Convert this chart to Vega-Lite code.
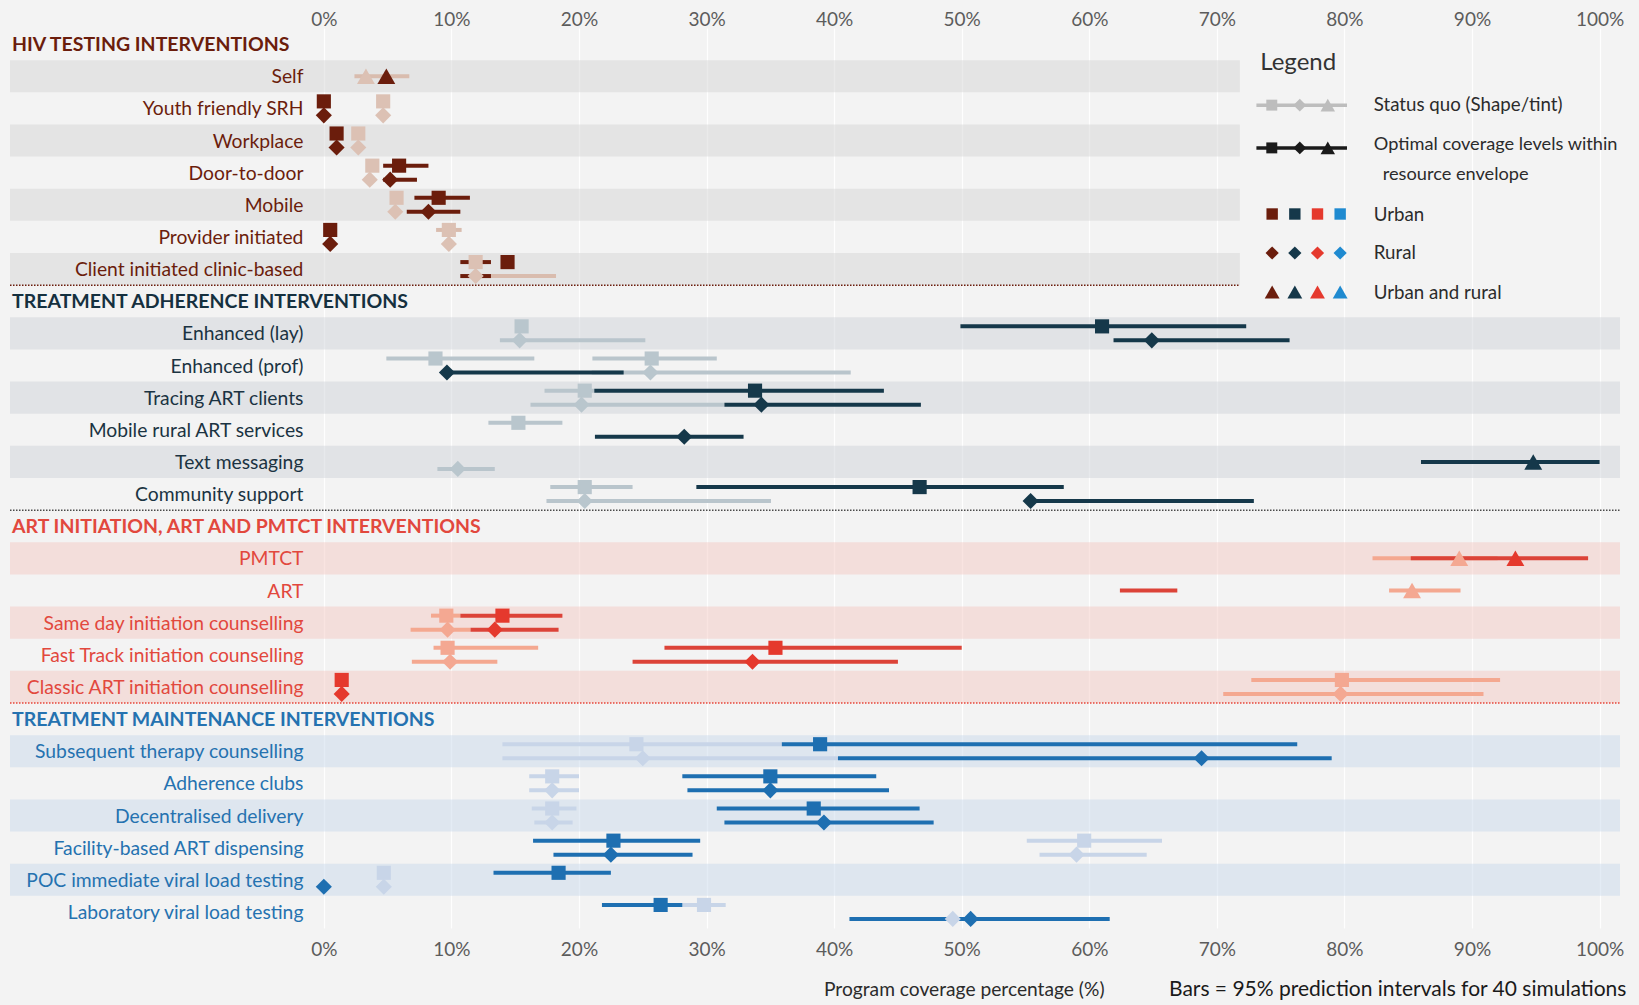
{
  "$schema": "https://vega.github.io/schema/vega-lite/v6.json",
  "width": 1610,
  "height": 900,
  "autosize": {"type": "none"},
  "padding": {"left": 10, "top": 28, "right": 19, "bottom": 77},
  "background": "#f3f3f3",
  "config": {
    "view": {"stroke": null},
    "font": "Lato"
  },
  "datasets": {
    "rows": [
      {"row": "HIV TESTING INTERVENTIONS", "sec": "HIV", "kind": "header"},
      {"row": "Self", "sec": "HIV", "kind": "label"},
      {"row": "Youth friendly SRH", "sec": "HIV", "kind": "label"},
      {"row": "Workplace", "sec": "HIV", "kind": "label"},
      {"row": "Door-to-door", "sec": "HIV", "kind": "label"},
      {"row": "Mobile", "sec": "HIV", "kind": "label"},
      {"row": "Provider initiated", "sec": "HIV", "kind": "label"},
      {"row": "Client initiated clinic-based", "sec": "HIV", "kind": "label"},
      {"row": "TREATMENT ADHERENCE INTERVENTIONS", "sec": "ADH", "kind": "header"},
      {"row": "Enhanced (lay)", "sec": "ADH", "kind": "label"},
      {"row": "Enhanced (prof)", "sec": "ADH", "kind": "label"},
      {"row": "Tracing ART clients", "sec": "ADH", "kind": "label"},
      {"row": "Mobile rural ART services", "sec": "ADH", "kind": "label"},
      {"row": "Text messaging", "sec": "ADH", "kind": "label"},
      {"row": "Community support", "sec": "ADH", "kind": "label"},
      {"row": "ART INITIATION, ART AND PMTCT INTERVENTIONS", "sec": "ART", "kind": "header"},
      {"row": "PMTCT", "sec": "ART", "kind": "label"},
      {"row": "ART", "sec": "ART", "kind": "label"},
      {"row": "Same day initiation counselling", "sec": "ART", "kind": "label"},
      {"row": "Fast Track initiation counselling", "sec": "ART", "kind": "label"},
      {"row": "Classic ART initiation counselling", "sec": "ART", "kind": "label"},
      {"row": "TREATMENT MAINTENANCE INTERVENTIONS", "sec": "MNT", "kind": "header"},
      {"row": "Subsequent therapy counselling", "sec": "MNT", "kind": "label"},
      {"row": "Adherence clubs", "sec": "MNT", "kind": "label"},
      {"row": "Decentralised delivery", "sec": "MNT", "kind": "label"},
      {"row": "Facility-based ART dispensing", "sec": "MNT", "kind": "label"},
      {"row": "POC immediate viral load testing", "sec": "MNT", "kind": "label"},
      {"row": "Laboratory viral load testing", "sec": "MNT", "kind": "label"}
    ],
    "bands": [
      {"row": "Self", "sec": "HIV"},
      {"row": "Workplace", "sec": "HIV"},
      {"row": "Mobile", "sec": "HIV"},
      {"row": "Client initiated clinic-based", "sec": "HIV"},
      {"row": "Enhanced (lay)", "sec": "ADH"},
      {"row": "Tracing ART clients", "sec": "ADH"},
      {"row": "Text messaging", "sec": "ADH"},
      {"row": "PMTCT", "sec": "ART"},
      {"row": "Same day initiation counselling", "sec": "ART"},
      {"row": "Classic ART initiation counselling", "sec": "ART"},
      {"row": "Subsequent therapy counselling", "sec": "MNT"},
      {"row": "Decentralised delivery", "sec": "MNT"},
      {"row": "POC immediate viral load testing", "sec": "MNT"}
    ],
    "seps": [
      {"row": "TREATMENT ADHERENCE INTERVENTIONS", "sec": "HIV"},
      {"row": "ART INITIATION, ART AND PMTCT INTERVENTIONS", "sec": "ADH"},
      {"row": "TREATMENT MAINTENANCE INTERVENTIONS", "sec": "ART"}
    ],
    "pts": [
      {"sec": "HIV", "row": "Self", "area": "Urban and rural", "scen": "SQ", "v": 3.3, "lo": 2.4, "hi": 6.7},
      {"sec": "HIV", "row": "Self", "area": "Urban and rural", "scen": "OPT", "v": 4.9},
      {"sec": "HIV", "row": "Youth friendly SRH", "area": "Urban", "scen": "OPT", "v": 0.0},
      {"sec": "HIV", "row": "Youth friendly SRH", "area": "Rural", "scen": "OPT", "v": 0.0},
      {"sec": "HIV", "row": "Youth friendly SRH", "area": "Urban", "scen": "SQ", "v": 4.65},
      {"sec": "HIV", "row": "Youth friendly SRH", "area": "Rural", "scen": "SQ", "v": 4.65},
      {"sec": "HIV", "row": "Workplace", "area": "Urban", "scen": "OPT", "v": 1.0},
      {"sec": "HIV", "row": "Workplace", "area": "Rural", "scen": "OPT", "v": 1.0},
      {"sec": "HIV", "row": "Workplace", "area": "Urban", "scen": "SQ", "v": 2.7},
      {"sec": "HIV", "row": "Workplace", "area": "Rural", "scen": "SQ", "v": 2.7},
      {"sec": "HIV", "row": "Door-to-door", "area": "Urban", "scen": "SQ", "v": 3.8},
      {"sec": "HIV", "row": "Door-to-door", "area": "Rural", "scen": "SQ", "v": 3.6},
      {"sec": "HIV", "row": "Door-to-door", "area": "Urban", "scen": "OPT", "v": 5.9, "lo": 4.65, "hi": 8.2},
      {"sec": "HIV", "row": "Door-to-door", "area": "Rural", "scen": "OPT", "v": 5.2, "lo": 4.65, "hi": 7.3},
      {"sec": "HIV", "row": "Mobile", "area": "Urban", "scen": "SQ", "v": 5.7},
      {"sec": "HIV", "row": "Mobile", "area": "Rural", "scen": "SQ", "v": 5.6},
      {"sec": "HIV", "row": "Mobile", "area": "Urban", "scen": "OPT", "v": 9.0, "lo": 7.1, "hi": 11.45},
      {"sec": "HIV", "row": "Mobile", "area": "Rural", "scen": "OPT", "v": 8.2, "lo": 6.5, "hi": 10.7},
      {"sec": "HIV", "row": "Provider initiated", "area": "Urban", "scen": "OPT", "v": 0.5},
      {"sec": "HIV", "row": "Provider initiated", "area": "Rural", "scen": "OPT", "v": 0.5},
      {"sec": "HIV", "row": "Provider initiated", "area": "Urban", "scen": "SQ", "v": 9.8, "lo": 8.8, "hi": 10.8},
      {"sec": "HIV", "row": "Provider initiated", "area": "Rural", "scen": "SQ", "v": 9.8},
      {"sec": "HIV", "row": "Client initiated clinic-based", "area": "Urban", "scen": "SQ", "v": 11.9},
      {"sec": "HIV", "row": "Client initiated clinic-based", "area": "Urban", "scen": "OPT", "v": 14.4, "lo": 10.7, "hi": 13.1},
      {"sec": "HIV", "row": "Client initiated clinic-based", "area": "Rural", "scen": "SQ", "v": 11.9, "lo": 10.7, "hi": 18.2},
      {"sec": "HIV", "row": "Client initiated clinic-based", "area": "Rural", "scen": "OPT", "v": null, "lo": 10.7, "hi": 13.1},

      {"sec": "ADH", "row": "Enhanced (lay)", "area": "Urban", "scen": "SQ", "v": 15.5},
      {"sec": "ADH", "row": "Enhanced (lay)", "area": "Rural", "scen": "SQ", "v": 15.35, "lo": 13.8, "hi": 25.2},
      {"sec": "ADH", "row": "Enhanced (lay)", "area": "Urban", "scen": "OPT", "v": 61.0, "lo": 49.9, "hi": 72.3},
      {"sec": "ADH", "row": "Enhanced (lay)", "area": "Rural", "scen": "OPT", "v": 64.9, "lo": 61.9, "hi": 75.7},
      {"sec": "ADH", "row": "Enhanced (prof)", "area": "Urban", "scen": "SQ", "v": 8.75, "lo": 4.9, "hi": 16.5},
      {"sec": "ADH", "row": "Enhanced (prof)", "area": "Urban", "scen": "SQ", "v": 25.7, "lo": 21.05, "hi": 30.8},
      {"sec": "ADH", "row": "Enhanced (prof)", "area": "Rural", "scen": "SQ", "v": 25.6, "lo": 21.0, "hi": 41.3},
      {"sec": "ADH", "row": "Enhanced (prof)", "area": "Rural", "scen": "OPT", "v": 9.65, "lo": 9.65, "hi": 23.5},
      {"sec": "ADH", "row": "Tracing ART clients", "area": "Urban", "scen": "SQ", "v": 20.45, "lo": 17.3, "hi": 21.2},
      {"sec": "ADH", "row": "Tracing ART clients", "area": "Rural", "scen": "SQ", "v": 20.2, "lo": 16.2, "hi": 31.4},
      {"sec": "ADH", "row": "Tracing ART clients", "area": "Urban", "scen": "OPT", "v": 33.8, "lo": 21.2, "hi": 43.9},
      {"sec": "ADH", "row": "Tracing ART clients", "area": "Rural", "scen": "OPT", "v": 34.3, "lo": 31.4, "hi": 46.8},
      {"sec": "ADH", "row": "Mobile rural ART services", "area": "Urban", "scen": "SQ", "v": 15.25, "lo": 12.9, "hi": 18.7},
      {"sec": "ADH", "row": "Mobile rural ART services", "area": "Rural", "scen": "OPT", "v": 28.25, "lo": 21.25, "hi": 32.9},
      {"sec": "ADH", "row": "Text messaging", "area": "Rural", "scen": "SQ", "v": 10.5, "lo": 8.9, "hi": 13.4},
      {"sec": "ADH", "row": "Text messaging", "area": "Urban and rural", "scen": "OPT", "v": 94.8, "lo": 86.0, "hi": 100.0},
      {"sec": "ADH", "row": "Community support", "area": "Urban", "scen": "SQ", "v": 20.45, "lo": 17.75, "hi": 24.2},
      {"sec": "ADH", "row": "Community support", "area": "Rural", "scen": "SQ", "v": 20.45, "lo": 17.45, "hi": 35.05},
      {"sec": "ADH", "row": "Community support", "area": "Urban", "scen": "OPT", "v": 46.7, "lo": 29.2, "hi": 58.0},
      {"sec": "ADH", "row": "Community support", "area": "Rural", "scen": "OPT", "v": 55.4, "lo": 55.4, "hi": 72.9},

      {"sec": "ART", "row": "PMTCT", "area": "Urban and rural", "scen": "SQ", "v": 89.0, "lo": 82.2, "hi": 92.0},
      {"sec": "ART", "row": "PMTCT", "area": "Urban and rural", "scen": "OPT", "v": 93.4, "lo": 85.2, "hi": 99.1},
      {"sec": "ART", "row": "ART", "area": "Urban and rural", "scen": "OPT", "v": null, "lo": 62.4, "hi": 66.9},
      {"sec": "ART", "row": "ART", "area": "Urban and rural", "scen": "SQ", "v": 85.3, "lo": 83.5, "hi": 89.1},
      {"sec": "ART", "row": "Same day initiation counselling", "area": "Urban", "scen": "SQ", "v": 9.6, "lo": 8.4, "hi": 10.7},
      {"sec": "ART", "row": "Same day initiation counselling", "area": "Urban", "scen": "OPT", "v": 14.0, "lo": 10.7, "hi": 18.7},
      {"sec": "ART", "row": "Same day initiation counselling", "area": "Rural", "scen": "SQ", "v": 9.7, "lo": 6.8, "hi": 11.5},
      {"sec": "ART", "row": "Same day initiation counselling", "area": "Rural", "scen": "OPT", "v": 13.4, "lo": 11.5, "hi": 18.4},
      {"sec": "ART", "row": "Fast Track initiation counselling", "area": "Urban", "scen": "SQ", "v": 9.7, "lo": 8.6, "hi": 16.8},
      {"sec": "ART", "row": "Fast Track initiation counselling", "area": "Urban", "scen": "OPT", "v": 35.4, "lo": 26.7, "hi": 50.0},
      {"sec": "ART", "row": "Fast Track initiation counselling", "area": "Rural", "scen": "SQ", "v": 9.9, "lo": 6.9, "hi": 13.6},
      {"sec": "ART", "row": "Fast Track initiation counselling", "area": "Rural", "scen": "OPT", "v": 33.6, "lo": 24.2, "hi": 45.0},
      {"sec": "ART", "row": "Classic ART initiation counselling", "area": "Urban", "scen": "OPT", "v": 1.4},
      {"sec": "ART", "row": "Classic ART initiation counselling", "area": "Rural", "scen": "OPT", "v": 1.4},
      {"sec": "ART", "row": "Classic ART initiation counselling", "area": "Urban", "scen": "SQ", "v": 79.8, "lo": 72.7, "hi": 92.2},
      {"sec": "ART", "row": "Classic ART initiation counselling", "area": "Rural", "scen": "SQ", "v": 79.7, "lo": 70.5, "hi": 90.9},

      {"sec": "MNT", "row": "Subsequent therapy counselling", "area": "Urban", "scen": "SQ", "v": 24.5, "lo": 14.0, "hi": 35.9},
      {"sec": "MNT", "row": "Subsequent therapy counselling", "area": "Urban", "scen": "OPT", "v": 38.9, "lo": 35.9, "hi": 76.3},
      {"sec": "MNT", "row": "Subsequent therapy counselling", "area": "Rural", "scen": "SQ", "v": 25.0, "lo": 14.0, "hi": 40.3},
      {"sec": "MNT", "row": "Subsequent therapy counselling", "area": "Rural", "scen": "OPT", "v": 68.8, "lo": 40.3, "hi": 79.0},
      {"sec": "MNT", "row": "Adherence clubs", "area": "Urban", "scen": "SQ", "v": 17.9, "lo": 16.1, "hi": 20.0},
      {"sec": "MNT", "row": "Adherence clubs", "area": "Rural", "scen": "SQ", "v": 17.9, "lo": 16.1, "hi": 20.0},
      {"sec": "MNT", "row": "Adherence clubs", "area": "Urban", "scen": "OPT", "v": 35.0, "lo": 28.1, "hi": 43.3},
      {"sec": "MNT", "row": "Adherence clubs", "area": "Rural", "scen": "OPT", "v": 35.0, "lo": 28.5, "hi": 44.3},
      {"sec": "MNT", "row": "Decentralised delivery", "area": "Urban", "scen": "SQ", "v": 17.9, "lo": 16.3, "hi": 19.8},
      {"sec": "MNT", "row": "Decentralised delivery", "area": "Rural", "scen": "SQ", "v": 17.9, "lo": 16.5, "hi": 19.5},
      {"sec": "MNT", "row": "Decentralised delivery", "area": "Urban", "scen": "OPT", "v": 38.4, "lo": 30.8, "hi": 46.7},
      {"sec": "MNT", "row": "Decentralised delivery", "area": "Rural", "scen": "OPT", "v": 39.2, "lo": 31.4, "hi": 47.8},
      {"sec": "MNT", "row": "Facility-based ART dispensing", "area": "Urban", "scen": "OPT", "v": 22.7, "lo": 16.4, "hi": 29.5},
      {"sec": "MNT", "row": "Facility-based ART dispensing", "area": "Rural", "scen": "OPT", "v": 22.5, "lo": 18.0, "hi": 28.9},
      {"sec": "MNT", "row": "Facility-based ART dispensing", "area": "Urban", "scen": "SQ", "v": 59.6, "lo": 55.1, "hi": 65.7},
      {"sec": "MNT", "row": "Facility-based ART dispensing", "area": "Rural", "scen": "SQ", "v": 59.0, "lo": 56.1, "hi": 64.5},
      {"sec": "MNT", "row": "POC immediate viral load testing", "area": "Urban", "scen": "OPT", "v": 18.4, "lo": 13.3, "hi": 22.5},
      {"sec": "MNT", "row": "POC immediate viral load testing", "area": "Rural", "scen": "OPT", "v": 0.0},
      {"sec": "MNT", "row": "POC immediate viral load testing", "area": "Urban", "scen": "SQ", "v": 4.7},
      {"sec": "MNT", "row": "POC immediate viral load testing", "area": "Rural", "scen": "SQ", "v": 4.7},
      {"sec": "MNT", "row": "Laboratory viral load testing", "area": "Urban", "scen": "OPT", "v": 26.4, "lo": 21.8, "hi": 28.1},
      {"sec": "MNT", "row": "Laboratory viral load testing", "area": "Urban", "scen": "SQ", "v": 29.8, "lo": 28.1, "hi": 31.5},
      {"sec": "MNT", "row": "Laboratory viral load testing", "area": "Rural", "scen": "OPT", "v": 50.7, "lo": 41.2, "hi": 61.6},
      {"sec": "MNT", "row": "Laboratory viral load testing", "area": "Rural", "scen": "SQ", "v": 49.3}
    ],
    "legendSymbols": [
      {"sec": "HIV", "key": "Urban"}, {"sec": "ADH", "key": "Urban"}, {"sec": "ART", "key": "Urban"}, {"sec": "MNT", "key": "Urban"},
      {"sec": "HIV", "key": "Rural"}, {"sec": "ADH", "key": "Rural"}, {"sec": "ART", "key": "Rural"}, {"sec": "MNT", "key": "Rural"},
      {"sec": "HIV", "key": "Urban and rural"}, {"sec": "ADH", "key": "Urban and rural"}, {"sec": "ART", "key": "Urban and rural"}, {"sec": "MNT", "key": "Urban and rural"}
    ],
    "legendShapes": [
      {"key": "Urban"}, {"key": "Rural"}, {"key": "Urban and rural"}
    ]
  },
  "resolve": {"scale": {"x": "independent", "y": "independent", "color": "independent", "shape": "independent", "size": "independent", "yOffset": "independent", "xOffset": "independent"}},
  "layer": [
    {
      "encoding": {
        "y": {"field": "row", "type": "nominal", "axis": null, "scale": {"paddingInner": 0, "paddingOuter": 0, "domain": ["HIV TESTING INTERVENTIONS", "Self", "Youth friendly SRH", "Workplace", "Door-to-door", "Mobile", "Provider initiated", "Client initiated clinic-based", "TREATMENT ADHERENCE INTERVENTIONS", "Enhanced (lay)", "Enhanced (prof)", "Tracing ART clients", "Mobile rural ART services", "Text messaging", "Community support", "ART INITIATION, ART AND PMTCT INTERVENTIONS", "PMTCT", "ART", "Same day initiation counselling", "Fast Track initiation counselling", "Classic ART initiation counselling", "TREATMENT MAINTENANCE INTERVENTIONS", "Subsequent therapy counselling", "Adherence clubs", "Decentralised delivery", "Facility-based ART dispensing", "POC immediate viral load testing", "Laboratory viral load testing"]}}
      },
      "resolve": {"scale": {"color": "independent"}, "axis": {"x": "independent"}},
      "layer": [
        {
          "data": {"name": "bands"},
          "transform": [{"filter": "datum.sec === 'HIV'"}],
          "mark": {"type": "rect", "opacity": 0.42},
          "encoding": {
            "x": {"datum": -24.6, "type": "quantitative", "axis": null, "scale": {"domain": [-24.6, 101.6], "nice": false, "zero": false}},
            "x2": {"datum": 71.8},
            "color": {"field": "sec", "type": "nominal", "legend": null, "scale": {"domain": ["HIV", "ADH", "ART", "MNT"], "range": ["#cfcfcf", "#c8ced3", "#f2c2ba", "#c2d5e9"]}}
          }
        },
        {
          "data": {"name": "bands"},
          "transform": [{"filter": "datum.sec !== 'HIV'"}],
          "mark": {"type": "rect", "opacity": 0.42},
          "encoding": {
            "x": {"datum": -24.6, "type": "quantitative", "axis": null, "scale": {"domain": [-24.6, 101.6], "nice": false, "zero": false}},
            "x2": {"datum": 101.6},
            "color": {"field": "sec", "type": "nominal", "legend": null, "scale": {"domain": ["HIV", "ADH", "ART", "MNT"], "range": ["#cfcfcf", "#c8ced3", "#f2c2ba", "#c2d5e9"]}}
          }
        },
        {
          "data": {"name": "seps"},
          "transform": [{"filter": "datum.sec === 'HIV'"}],
          "mark": {"type": "rule", "strokeDash": [1.5, 1.5], "strokeWidth": 1.5, "color": "#6b1d0c"},
          "encoding": {
            "y": {"field": "row", "type": "nominal", "bandPosition": 0, "axis": null},
            "x": {"datum": -24.6, "type": "quantitative", "axis": null, "scale": {"domain": [-24.6, 101.6], "nice": false, "zero": false}},
            "x2": {"datum": 71.8}
          }
        },
        {
          "data": {"name": "seps"},
          "transform": [{"filter": "datum.sec !== 'HIV'"}],
          "mark": {"type": "rule", "strokeDash": [1.5, 1.5], "strokeWidth": 1.5},
          "encoding": {
            "y": {"field": "row", "type": "nominal", "bandPosition": 0, "axis": null},
            "x": {"datum": -24.6, "type": "quantitative", "axis": null, "scale": {"domain": [-24.6, 101.6], "nice": false, "zero": false}},
            "x2": {"datum": 101.6},
            "color": {"field": "sec", "type": "nominal", "legend": null, "scale": {"domain": ["ADH", "ART"], "range": ["#4a4a4a", "#e8463a"]}}
          }
        },
        {
          "data": {"name": "rows"},
          "transform": [{"filter": "datum.kind === 'label'"}],
          "mark": {"type": "text", "align": "right", "baseline": "middle", "fontSize": 19.3, "dy": 1},
          "encoding": {
            "x": {"datum": -1.6, "type": "quantitative", "axis": null, "scale": {"domain": [-24.6, 101.6], "nice": false, "zero": false}},
            "text": {"field": "row"},
            "color": {"field": "sec", "type": "nominal", "legend": null, "scale": {"domain": ["HIV", "ADH", "ART", "MNT"], "range": ["#6b1d0c", "#1b3342", "#e2483d", "#2572b0"]}}
          }
        },
        {
          "data": {"name": "rows"},
          "transform": [{"filter": "datum.kind === 'header'"}],
          "mark": {"type": "text", "align": "left", "baseline": "middle", "fontSize": 19.5, "fontWeight": "bold", "dy": 1},
          "encoding": {
            "x": {"datum": -24.44, "type": "quantitative", "axis": null, "scale": {"domain": [-24.6, 101.6], "nice": false, "zero": false}},
            "text": {"field": "row"},
            "color": {"field": "sec", "type": "nominal", "legend": null, "scale": {"domain": ["HIV", "ADH", "ART", "MNT"], "range": ["#6b1d0c", "#15303f", "#e2483d", "#2572b0"]}}
          }
        },
        {
          "data": {"name": "pts"},
          "transform": [{"filter": "datum.scen === 'SQ' && isValid(datum.lo)"}],
          "mark": {"type": "rule", "strokeWidth": 4},
          "encoding": {
            "yOffset": {"field": "area", "type": "nominal", "scale": {"domain": ["Urban", "Urban and rural", "Rural"], "paddingInner": 0, "paddingOuter": 0.8}},
            "x": {"field": "lo", "type": "quantitative", "scale": {"domain": [-24.6, 101.6], "nice": false, "zero": false},
              "axis": {"orient": "top", "values": [0, 10, 20, 30, 40, 50, 60, 70, 80, 90, 100], "labelExpr": "datum.value + '%'", "title": null, "domain": false, "ticks": false, "labelPadding": -1.5, "labelFontSize": 19, "labelColor": "#5c5c5c", "grid": true, "gridColor": "#ffffff", "gridOpacity": 0.9, "gridWidth": 1.2}},
            "x2": {"field": "hi"},
            "color": {"field": "sec", "type": "nominal", "legend": null, "scale": {"domain": ["HIV", "ADH", "ART", "MNT"], "range": ["#d9bcae", "#b9c5cc", "#f4a890", "#c8d5e8"]}}
          }
        },
        {
          "data": {"name": "pts"},
          "transform": [{"filter": "datum.scen === 'OPT' && isValid(datum.lo)"}],
          "mark": {"type": "rule", "strokeWidth": 4},
          "encoding": {
            "yOffset": {"field": "area", "type": "nominal", "scale": {"domain": ["Urban", "Urban and rural", "Rural"], "paddingInner": 0, "paddingOuter": 0.8}},
            "x": {"field": "lo", "type": "quantitative", "axis": null, "scale": {"domain": [-24.6, 101.6], "nice": false, "zero": false}},
            "x2": {"field": "hi"},
            "color": {"field": "sec", "type": "nominal", "legend": null, "scale": {"domain": ["HIV", "ADH", "ART", "MNT"], "range": ["#6b1d0c", "#15384a", "#dc4338", "#1e6fb1"]}}
          }
        },
        {
          "data": {"name": "pts"},
          "transform": [{"filter": "datum.scen === 'SQ' && isValid(datum.v)"}],
          "mark": {"type": "point", "filled": true, "opacity": 1, "strokeWidth": 0},
          "encoding": {
            "yOffset": {"field": "area", "type": "nominal", "scale": {"domain": ["Urban", "Urban and rural", "Rural"], "paddingInner": 0, "paddingOuter": 0.8}},
            "x": {"field": "v", "type": "quantitative", "scale": {"domain": [-24.6, 101.6], "nice": false, "zero": false},
              "axis": {"orient": "bottom", "values": [0, 10, 20, 30, 40, 50, 60, 70, 80, 90, 100], "labelExpr": "datum.value + '%'", "title": null, "domain": false, "ticks": false, "grid": false, "labelPadding": 12, "labelFontSize": 19, "labelColor": "#5c5c5c"}},
            "shape": {"field": "area", "type": "nominal", "legend": null, "scale": {"domain": ["Urban", "Rural", "Urban and rural"], "range": ["square", "diamond", "triangle-up"]}},
            "size": {"field": "area", "type": "nominal", "legend": null, "scale": {"domain": ["Urban", "Rural", "Urban and rural"], "range": [200, 320, 480]}},
            "color": {"field": "sec", "type": "nominal", "legend": null, "scale": {"domain": ["HIV", "ADH", "ART", "MNT"], "range": ["#dcc1b4", "#b9c6cd", "#f4a892", "#c8d5e8"]}}
          }
        },
        {
          "data": {"name": "pts"},
          "transform": [{"filter": "datum.scen === 'OPT' && isValid(datum.v)"}],
          "mark": {"type": "point", "filled": true, "opacity": 1, "strokeWidth": 0},
          "encoding": {
            "yOffset": {"field": "area", "type": "nominal", "scale": {"domain": ["Urban", "Urban and rural", "Rural"], "paddingInner": 0, "paddingOuter": 0.8}},
            "x": {"field": "v", "type": "quantitative", "axis": null, "scale": {"domain": [-24.6, 101.6], "nice": false, "zero": false}},
            "shape": {"field": "area", "type": "nominal", "legend": null, "scale": {"domain": ["Urban", "Rural", "Urban and rural"], "range": ["square", "diamond", "triangle-up"]}},
            "size": {"field": "area", "type": "nominal", "legend": null, "scale": {"domain": ["Urban", "Rural", "Urban and rural"], "range": [190, 300, 460]}},
            "color": {"field": "sec", "type": "nominal", "legend": null, "scale": {"domain": ["HIV", "ADH", "ART", "MNT"], "range": ["#6b1d0c", "#15384a", "#e5392d", "#1e6fb1"]}}
          }
        }
      ]
    },
    {
      "resolve": {"scale": {"xOffset": "independent", "yOffset": "independent", "color": "independent", "shape": "independent", "size": "independent"}},
      "layer": [
        {
          "data": {"values": [{}]},
          "mark": {"type": "text", "text": "Legend", "align": "left", "baseline": "middle", "fontSize": 24, "color": "#333333"},
          "encoding": {
            "x": {"datum": 73.4, "type": "quantitative", "axis": null, "scale": {"domain": [-24.6, 101.6], "nice": false, "zero": false}},
            "y": {"datum": 0.59, "type": "quantitative", "axis": null, "scale": {"domain": [-0.5, 27.5], "reverse": true, "nice": false, "zero": false}}
          }
        },
        {
          "data": {"values": [{}]},
          "mark": {"type": "rule", "color": "#bdbdbd", "strokeWidth": 3.5},
          "encoding": {
            "x": {"datum": 73.1, "type": "quantitative", "axis": null, "scale": {"domain": [-24.6, 101.6], "nice": false, "zero": false}},
            "x2": {"datum": 80.2},
            "y": {"datum": 1.9, "type": "quantitative", "axis": null, "scale": {"domain": [-0.5, 27.5], "reverse": true, "nice": false, "zero": false}}
          }
        },
        {
          "data": {"values": [{}]},
          "mark": {"type": "rule", "color": "#1a1a1a", "strokeWidth": 3.5},
          "encoding": {
            "x": {"datum": 73.1, "type": "quantitative", "axis": null, "scale": {"domain": [-24.6, 101.6], "nice": false, "zero": false}},
            "x2": {"datum": 80.2},
            "y": {"datum": 3.23, "type": "quantitative", "axis": null, "scale": {"domain": [-0.5, 27.5], "reverse": true, "nice": false, "zero": false}}
          }
        },
        {
          "data": {"name": "legendShapes"},
          "mark": {"type": "point", "filled": true, "opacity": 1, "strokeWidth": 0, "color": "#bdbdbd"},
          "encoding": {
            "x": {"datum": 76.5, "type": "quantitative", "axis": null, "scale": {"domain": [-24.6, 101.6], "nice": false, "zero": false}},
            "xOffset": {"field": "key", "type": "nominal", "scale": {"domain": ["Urban", "Rural", "Urban and rural"], "range": [-28, 28], "padding": 0}},
            "y": {"datum": 1.9, "type": "quantitative", "axis": null, "scale": {"domain": [-0.5, 27.5], "reverse": true, "nice": false, "zero": false}},
            "shape": {"field": "key", "type": "nominal", "legend": null, "scale": {"domain": ["Urban", "Rural", "Urban and rural"], "range": ["square", "diamond", "triangle-up"]}},
            "size": {"field": "key", "type": "nominal", "legend": null, "scale": {"domain": ["Urban", "Rural", "Urban and rural"], "range": [120, 210, 290]}}
          }
        },
        {
          "data": {"name": "legendShapes"},
          "mark": {"type": "point", "filled": true, "opacity": 1, "strokeWidth": 0, "color": "#1a1a1a"},
          "encoding": {
            "x": {"datum": 76.5, "type": "quantitative", "axis": null, "scale": {"domain": [-24.6, 101.6], "nice": false, "zero": false}},
            "xOffset": {"field": "key", "type": "nominal", "scale": {"domain": ["Urban", "Rural", "Urban and rural"], "range": [-28, 28], "padding": 0}},
            "y": {"datum": 3.23, "type": "quantitative", "axis": null, "scale": {"domain": [-0.5, 27.5], "reverse": true, "nice": false, "zero": false}},
            "shape": {"field": "key", "type": "nominal", "legend": null, "scale": {"domain": ["Urban", "Rural", "Urban and rural"], "range": ["square", "diamond", "triangle-up"]}},
            "size": {"field": "key", "type": "nominal", "legend": null, "scale": {"domain": ["Urban", "Rural", "Urban and rural"], "range": [120, 210, 290]}}
          }
        },
        {
          "data": {"name": "legendSymbols"},
          "mark": {"type": "point", "filled": true, "opacity": 1, "strokeWidth": 0},
          "encoding": {
            "x": {"datum": 77.0, "type": "quantitative", "axis": null, "scale": {"domain": [-24.6, 101.6], "nice": false, "zero": false}},
            "xOffset": {"field": "sec", "type": "nominal", "scale": {"domain": ["HIV", "ADH", "ART", "MNT"], "range": [-34, 34], "padding": 0}},
            "y": {"datum": 6.5, "type": "quantitative", "axis": null, "scale": {"domain": [-0.5, 27.5], "reverse": true, "nice": false, "zero": false}},
            "yOffset": {"field": "key", "type": "nominal", "scale": {"domain": ["Urban", "Rural", "Urban and rural"], "range": [-39, 39], "padding": 0}},
            "shape": {"field": "key", "type": "nominal", "legend": null, "scale": {"domain": ["Urban", "Rural", "Urban and rural"], "range": ["square", "diamond", "triangle-up"]}},
            "size": {"field": "key", "type": "nominal", "legend": null, "scale": {"domain": ["Urban", "Rural", "Urban and rural"], "range": [130, 220, 320]}},
            "color": {"field": "sec", "type": "nominal", "legend": null, "scale": {"domain": ["HIV", "ADH", "ART", "MNT"], "range": ["#6b1d0c", "#15384a", "#e5392d", "#1f8ad0"]}}
          }
        },
        {
          "data": {"values": [{}]},
          "mark": {"type": "text", "text": "Status quo (Shape/tint)", "align": "left", "baseline": "middle", "fontSize": 18.7, "color": "#2b2b2b"},
          "encoding": {
            "x": {"datum": 82.3, "type": "quantitative", "axis": null, "scale": {"domain": [-24.6, 101.6], "nice": false, "zero": false}},
            "y": {"datum": 1.9, "type": "quantitative", "axis": null, "scale": {"domain": [-0.5, 27.5], "reverse": true, "nice": false, "zero": false}}
          }
        },
        {
          "data": {"values": [{}]},
          "mark": {"type": "text", "text": "Optimal coverage levels within", "align": "left", "baseline": "middle", "fontSize": 18.2, "color": "#2b2b2b"},
          "encoding": {
            "x": {"datum": 82.3, "type": "quantitative", "axis": null, "scale": {"domain": [-24.6, 101.6], "nice": false, "zero": false}},
            "y": {"datum": 3.14, "type": "quantitative", "axis": null, "scale": {"domain": [-0.5, 27.5], "reverse": true, "nice": false, "zero": false}}
          }
        },
        {
          "data": {"values": [{}]},
          "mark": {"type": "text", "text": "resource envelope", "align": "left", "baseline": "middle", "fontSize": 18.2, "color": "#2b2b2b"},
          "encoding": {
            "x": {"datum": 83.0, "type": "quantitative", "axis": null, "scale": {"domain": [-24.6, 101.6], "nice": false, "zero": false}},
            "y": {"datum": 4.07, "type": "quantitative", "axis": null, "scale": {"domain": [-0.5, 27.5], "reverse": true, "nice": false, "zero": false}}
          }
        },
        {
          "data": {"values": [{}]},
          "mark": {"type": "text", "text": "Urban", "align": "left", "baseline": "middle", "fontSize": 18.7, "color": "#2b2b2b"},
          "encoding": {
            "x": {"datum": 82.3, "type": "quantitative", "axis": null, "scale": {"domain": [-24.6, 101.6], "nice": false, "zero": false}},
            "y": {"datum": 5.32, "type": "quantitative", "axis": null, "scale": {"domain": [-0.5, 27.5], "reverse": true, "nice": false, "zero": false}}
          }
        },
        {
          "data": {"values": [{}]},
          "mark": {"type": "text", "text": "Rural", "align": "left", "baseline": "middle", "fontSize": 18.7, "color": "#2b2b2b"},
          "encoding": {
            "x": {"datum": 82.3, "type": "quantitative", "axis": null, "scale": {"domain": [-24.6, 101.6], "nice": false, "zero": false}},
            "y": {"datum": 6.5, "type": "quantitative", "axis": null, "scale": {"domain": [-0.5, 27.5], "reverse": true, "nice": false, "zero": false}}
          }
        },
        {
          "data": {"values": [{}]},
          "mark": {"type": "text", "text": "Urban and rural", "align": "left", "baseline": "middle", "fontSize": 18.7, "color": "#2b2b2b"},
          "encoding": {
            "x": {"datum": 82.3, "type": "quantitative", "axis": null, "scale": {"domain": [-24.6, 101.6], "nice": false, "zero": false}},
            "y": {"datum": 7.74, "type": "quantitative", "axis": null, "scale": {"domain": [-0.5, 27.5], "reverse": true, "nice": false, "zero": false}}
          }
        },
        {
          "data": {"values": [{}]},
          "mark": {"type": "text", "text": "Program coverage percentage (%)", "align": "center", "baseline": "middle", "fontSize": 19.2, "color": "#2b2b2b"},
          "encoding": {
            "x": {"datum": 50.2, "type": "quantitative", "axis": null, "scale": {"domain": [-24.6, 101.6], "nice": false, "zero": false}},
            "y": {"datum": 29.42, "type": "quantitative", "axis": null, "scale": {"domain": [-0.5, 27.5], "reverse": true, "nice": false, "zero": false}}
          }
        },
        {
          "data": {"values": [{}]},
          "mark": {"type": "text", "text": "Bars = 95% prediction intervals for 40 simulations", "align": "right", "baseline": "middle", "fontSize": 21, "color": "#1a1a1a"},
          "encoding": {
            "x": {"datum": 102.1, "type": "quantitative", "axis": null, "scale": {"domain": [-24.6, 101.6], "nice": false, "zero": false}},
            "y": {"datum": 29.42, "type": "quantitative", "axis": null, "scale": {"domain": [-0.5, 27.5], "reverse": true, "nice": false, "zero": false}}
          }
        }
      ]
    }
  ]
}
